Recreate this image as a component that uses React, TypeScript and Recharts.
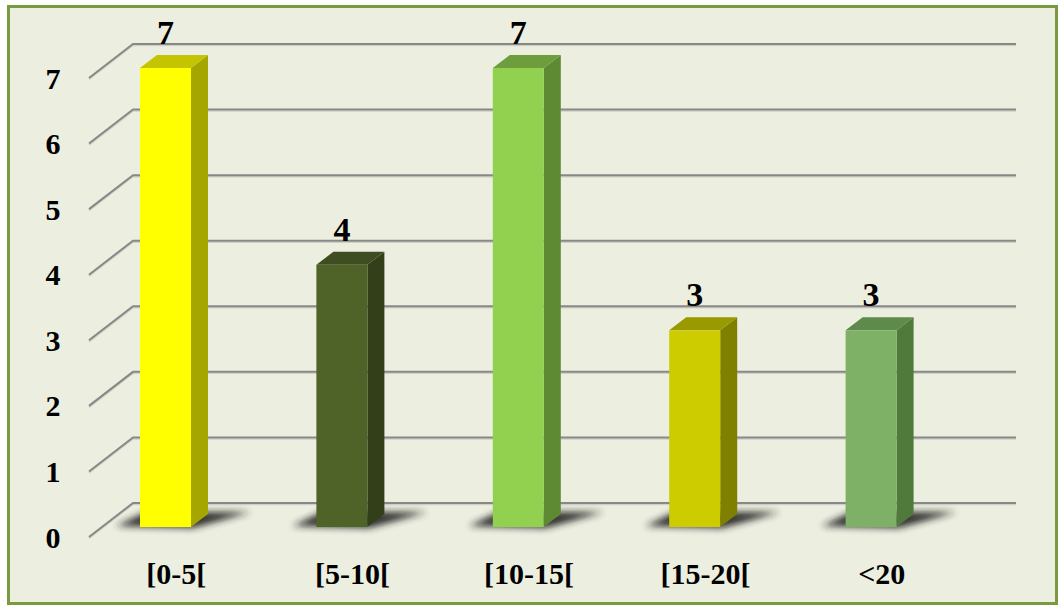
import React from "react"
import { Bar, BarChart, CartesianGrid, Cell, LabelList, XAxis, YAxis } from "recharts"

// age groups and counts
const classes = ["[0-5[", "[5-10[", "[10-15[", "[15-20[", "<20"]
const counts = [7, 4, 7, 3, 3]
const yTicks = [0, 1, 2, 3, 4, 5, 6, 7]

const frontColors = ["#FFFF00", "#4F6228", "#92D050", "#CCCC00", "#7EB065"]
const sideColors = ["#A6A600", "#333F19", "#5F8A34", "#7F7F00", "#507A3C"]
const topColors = ["#C4C400", "#3F4E20", "#6E9D3D", "#999900", "#5E8A4C"]

const FONT = "'Liberation Serif', 'Times New Roman', serif"
const DX = 17
const DY = 13

const data = classes.map((name, i) => ({ name, value: counts[i] }))

const Bar3D = (props: any) => {
    const { x, y, width, height, index } = props
    const bottom = y + height
    const right = x + width
    return (
        <g>
            <polygon
                points={`${x - 24},${bottom - 1} ${right + 2},${bottom + 1} ${right + 60},${bottom - 15} ${x + 6},${bottom - 15}`}
                fill="#1e1e1e"
                opacity={0.9}
                filter="url(#barShadow)"
            />
            <polygon
                points={`${right},${y} ${right + DX},${y - DY} ${right + DX},${bottom - DY} ${right},${bottom}`}
                fill={sideColors[index]}
            />
            <polygon
                points={`${x},${y} ${x + DX},${y - DY} ${right + DX},${y - DY} ${right},${y}`}
                fill={topColors[index]}
            />
            <rect x={x} y={y} width={width} height={height} fill={frontColors[index]} />
        </g>
    )
}

const gridLine = (props: any) => {
    const { x1, x2, y1, index } = props
    const fy = y1 + 10
    const by = y1 - 24
    return (
        <g key={`grid-${index}`}>
            <polyline
                points={`${x1 + 12},${fy + 1.5} ${x1 + 56},${by + 1.5} ${x2 + 57},${by + 1.5}`}
                fill="none"
                stroke="#cfd1c4"
                strokeWidth={1.5}
            />
            <polyline
                points={`${x1 + 12},${fy} ${x1 + 56},${by} ${x2 + 57},${by}`}
                fill="none"
                stroke="#888888"
                strokeWidth={2}
            />
        </g>
    )
}

const YTick = (props: any) => {
    const { y, payload } = props
    return (
        <text x={53} y={y + 10} textAnchor="middle" dominantBaseline="central"
            fontFamily={FONT} fontWeight="bold" fontSize={30} fill="#000">
            {payload.value}
        </text>
    )
}

const XTick = (props: any) => {
    const { x, y, payload } = props
    return (
        <text x={x + 11} y={y + 46} textAnchor="middle" dominantBaseline="central"
            fontFamily={FONT} fontWeight="bold" fontSize={30} fill="#000">
            {payload.value}
        </text>
    )
}

const ValueLabel = (props: any) => {
    const { x, y, width, value } = props
    return (
        <text x={x + width / 2} y={y - 24} textAnchor="middle"
            fontFamily={FONT} fontWeight="bold" fontSize={34} fill="#000">
            {value}
        </text>
    )
}

const App = () => {
    return (
        <div style={{ position: "absolute", left: 0, top: 0, width: 1059, height: 608, background: "#ffffff" }}>
            <div
                style={{
                    position: "absolute",
                    left: 7,
                    top: 5,
                    width: 1051,
                    height: 600,
                    boxSizing: "border-box",
                    border: "3px solid #7A9A3F",
                    background: "#ECEFE0",
                }}
            />
            <div style={{ position: "absolute", left: 0, top: 0 }}>
                <BarChart
                    width={1059}
                    height={608}
                    data={data}
                    barSize={51}
                    margin={{ top: 68, right: 100, left: 0, bottom: 0 }}
                >
                    <defs>
                        <filter id="barShadow" x="-50%" y="-100%" width="200%" height="300%">
                            <feGaussianBlur stdDeviation="3.5" />
                        </filter>
                    </defs>
                    <CartesianGrid vertical={false} horizontal={gridLine} />
                    <XAxis
                        dataKey="name"
                        height={81}
                        axisLine={false}
                        tickLine={false}
                        tickSize={0}
                        tickMargin={0}
                        interval={0}
                        tick={<XTick />}
                    />
                    <YAxis
                        width={77}
                        domain={[0, 7]}
                        ticks={yTicks}
                        axisLine={false}
                        tickLine={false}
                        tick={<YTick />}
                    />
                    <Bar dataKey="value" isAnimationActive={false} shape={<Bar3D />}>
                        {data.map((d, i) => (
                            <Cell key={d.name} fill={frontColors[i]} />
                        ))}
                        <LabelList dataKey="value" content={<ValueLabel />} />
                    </Bar>
                </BarChart>
            </div>
        </div>
    )
}

export default App
